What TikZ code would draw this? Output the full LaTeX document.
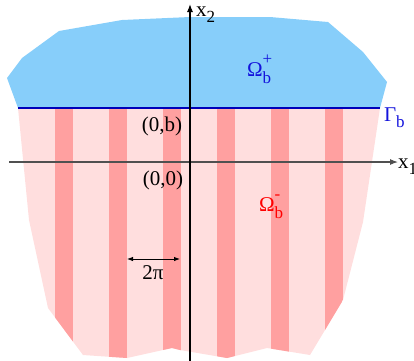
\documentclass[tikz,border=0pt]{standalone}
\usepackage{fontspec}
\setmainfont{Liberation Serif}
\usetikzlibrary{arrows.meta}
\definecolor{skyb}{RGB}{135,206,250}
\definecolor{pinkl}{RGB}{255,222,222}
\definecolor{pinkd}{RGB}{255,160,160}
\definecolor{gblue}{RGB}{0,0,185}
\definecolor{lblue}{RGB}{20,20,220}
\definecolor{axgray}{RGB}{80,80,80}
\newcommand{\subsc}[1]{\raisebox{-0.3em}{\fontsize{17}{17}\selectfont #1}}
\newcommand{\subsupsc}[2]{\rlap{\raisebox{0.55em}{\fontsize{17}{17}\selectfont #2}}\raisebox{-0.35em}{\fontsize{17}{17}\selectfont #1}}
\begin{document}
\begin{tikzpicture}[x=1pt,y=-1pt,
  lbl/.style={inner sep=0pt,outer sep=0pt,font=\fontsize{21}{24}\selectfont},
  axis/.style={line width=1.1pt,-{Latex[length=8pt,width=6pt]}},
  dim/.style={line width=0.9pt,{Latex[length=6pt,width=4.5pt]}-{Latex[length=6pt,width=4.5pt]}}]
\useasboundingbox (0,0) rectangle (414,360);
% upper domain
\fill[skyb] (18,108) -- (7,78) -- (22,58) -- (59,31) -- (122,20) -- (190,17) -- (270,17) -- (328,22) -- (363,52) -- (387,82) -- (380,108) -- cycle;
% lower domain
\def\lowerpath{(18,108) -- (29,220) -- (48,308) -- (83,355) -- (127,358) -- (172,348) -- (180,350) -- (227,358) -- (267,348) -- (310,355) -- (343,300) -- (363,222) -- (380,108) -- cycle}
\fill[pinkl] \lowerpath;
\begin{scope}
  \clip \lowerpath;
  \foreach \xs in {55,109,163,217,271,325}
    \fill[pinkd] (\xs,108) rectangle (\xs+18,362);
\end{scope}
% interface
\coordinate (gl) at (18,108);
\coordinate (gr) at (380,108);
\draw[gblue,line width=2.4pt] (gl) -- (gr);
% axes
\coordinate (h0) at (9,162);
\coordinate (h1) at (398,162);
\coordinate (v0) at (190,362);
\coordinate (v1) at (190,4);
\draw[axis,axgray] (h0) -- (h1);
\draw[axis,black] (v0) -- (v1);
% 2pi dimension
\coordinate (d0) at (127,259);
\coordinate (d1) at (180,259);
\draw[dim] (d0) -- (d1);
% labels
\node[lbl,anchor=base west] (x2) at (196,16) {x\subsc{2}};
\node[lbl,anchor=base west] (x1) at (398,168) {x\subsc{1}};
\node[lbl,anchor=base west,text=lblue] (op) at (247,76) {Ω\subsupsc{b}{+}};
\node[lbl,anchor=base west,text=red] (om) at (259,211) {Ω\subsupsc{b}{-}};
\node[lbl,anchor=base west,text=lblue] (gam) at (384,121) {Γ\subsc{b}};
\node[lbl,anchor=base east] (ob) at (182,131) {(0,b)};
\node[lbl,anchor=base east] (oo) at (183,185) {(0,0)};
\node[lbl,anchor=base] (tp) at (153,279) {2π};
\end{tikzpicture}
\end{document}
